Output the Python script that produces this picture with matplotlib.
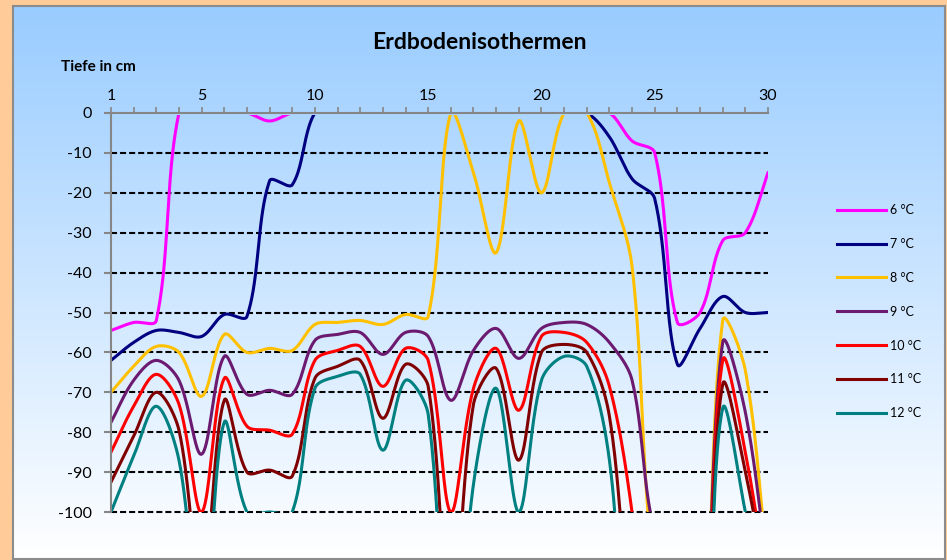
import numpy as np
import matplotlib
matplotlib.use("Agg")
import matplotlib.pyplot as plt
from matplotlib.colors import LinearSegmentedColormap
from matplotlib.transforms import Bbox, TransformedBbox

plt.rcParams["font.family"] = ["Lato", "DejaVu Sans"]
plt.rcParams["axes.unicode_minus"] = False

# Tag 1..30, Tiefe der Isotherme in cm (0 = Oberflaeche, -100 = tiefster Wert)
days = list(range(1, 31))
iso_6 = [-54.5, -52.5, -52, 0, 0, 0, 0, -2, 0, 0, 0, 0, 0, 0, 0,
         0, 0, 0, 0, 0, 0, 0, 0, -7, -10, -52.5, -50, -32, -30, -15]
iso_7 = [-62, -57.5, -54.5, -55, -56, -50.5, -51, -17, -18, 0, 0, 0, 0, 0, 0,
         0, 0, 0, 0, 0, 0, 0, -6, -16.5, -21.5, -63, -54, -46, -50, -50]
iso_8 = [-70, -63.5, -58.5, -60, -71, -55.5, -60, -59, -59.5, -53, -52.5, -52, -53, -50.5, -51,
         0, -15, -35, -2, -20, 0, 0, -17.5, -38.5, -115, -115, -150, -52, -64.5, -115]
iso_9 = [-77.5, -67, -62, -67, -85.5, -61, -70.5, -69.5, -70.5, -57, -55.5, -55, -60.5, -55, -56,
         -72, -59.5, -54, -61.5, -54, -52.5, -53, -57.5, -67, -105, -110, -150, -57.5, -75, -115]
iso_10 = [-85, -73.5, -65.5, -73, -100, -66.5, -78.5, -79.5, -80.5, -62, -59.5, -58.5, -68.5, -59, -62,
          -100, -69, -59, -74.5, -56, -55, -57.5, -68.5, -100, -150, -150, -150, -62, -85, -120]
iso_11 = [-92.5, -81, -70, -79.5, -120, -72, -90, -89.5, -91, -66.5, -63.5, -62, -76.5, -63, -68.5,
          -130, -73, -64, -87, -60, -58, -60, -76, -130, -150, -150, -150, -68, -90, -120]
iso_12 = [-100, -86, -73.5, -87, -130, -77.5, -100, -100, -100, -69, -66, -65.5, -84.5, -67, -75.5,
          -150, -93, -69, -100, -67, -61, -63.5, -87, -150, -150, -150, -150, -74, -100, -130]

series = [iso_6, iso_7, iso_8, iso_9, iso_10, iso_11, iso_12]
labels = ["6 °C", "7 °C", "8 °C", "9 °C", "10 °C", "11 °C", "12 °C"]
colors = ["#FF00FF", "#000080", "#FFC000", "#6B1A70", "#FF0000", "#800000", "#008080"]
x_labels = [1, 5, 10, 15, 20, 25, 30]


def smooth(ax, xs, ys, steps=40):
    # geglaettete Linie wie in Excel (Bezier, Kontrollpunkte nach Sehnenlaenge)
    p = ax.transData.transform(np.column_stack([xs, ys]))
    n = len(p)
    t = np.linspace(0, 1, steps)[:, None]
    parts = []
    for i in range(n - 1):
        a, b = p[i], p[i + 1]
        pa = p[i - 1] if i > 0 else a
        nb = p[i + 2] if i + 2 < n else b
        d0 = np.hypot(*(a - pa))
        d1 = np.hypot(*(b - a))
        d2 = np.hypot(*(nb - b))
        c1 = a + (b - pa) * (d1 / (d0 + d1)) / 3 if d0 + d1 > 0 else a
        c2 = b - (nb - a) * (d1 / (d1 + d2)) / 3 if d1 + d2 > 0 else b
        seg = (1 - t) ** 3 * a + 3 * (1 - t) ** 2 * t * c1 + 3 * (1 - t) * t ** 2 * c2 + t ** 3 * b
        parts.append(seg if i == 0 else seg[1:])
    pts = ax.transData.inverted().transform(np.vstack(parts))
    return pts[:, 0], pts[:, 1]


fig = plt.figure(figsize=(9.47, 5.6), dpi=100)
fig.patch.set_facecolor("#FFCC99")

# Hintergrund mit Verlauf
bg = fig.add_axes([13 / 947, 1 - 559 / 560, 932 / 947, 553 / 560])
cmap = LinearSegmentedColormap.from_list("bg", ["#99CCFF", "#FFFFFF"])
bg.imshow(np.linspace(0, 1, 256)[:, None], aspect="auto", cmap=cmap,
          extent=[0, 1, 0, 1], origin="upper")
bg.set_xticks([])
bg.set_yticks([])
for s in bg.spines.values():
    s.set_color("#8C8C8C")
    s.set_linewidth(1.5)

ax = fig.add_axes([111 / 947, 1 - 512 / 560, 657 / 947, 399 / 560])
ax.set_facecolor("none")
ax.set_xlim(1, 30)
ax.set_ylim(-100, 0)

ax.hlines(range(-100, 0, 10), 1, 30, colors="black", linestyles=(0, (2.9, 1.45)),
          linewidth=1.5, clip_on=False, zorder=1)

clip = TransformedBbox(Bbox([[0, 0], [1, 1 - 2.2 / 399]]), ax.transAxes)
handles = []
for vals, col in zip(series, colors):
    sx, sy = smooth(ax, days, vals)
    line, = ax.plot(sx, sy, color=col, lw=2.2, zorder=3)
    line.set_clip_box(clip)
    handles.append(line)

for side in ["right", "bottom"]:
    ax.spines[side].set_visible(False)
for side in ["top", "left"]:
    ax.spines[side].set_color("#868686")
    ax.spines[side].set_linewidth(1.5)
    ax.spines[side].set_zorder(4)

ax.xaxis.tick_top()
ax.set_xticks(days)
ax.set_xticklabels([str(d) if d in x_labels else "" for d in days])
ax.tick_params(axis="x", length=4.3, width=1.2, color="#868686", pad=3, labelsize=11.5)
ax.set_yticks(range(-100, 1, 10))
ax.tick_params(axis="y", length=5, width=1.5, color="#868686", pad=9, labelsize=11.5)

fig.text(479 / 947, 1 - 49 / 560, "Erdbodenisothermen", ha="center", va="baseline",
         fontsize=16.5, fontweight="bold")
fig.text(61 / 947, 1 - 71 / 560, "Tiefe in cm", ha="left", va="baseline",
         fontsize=11, fontweight="bold")

fig.legend(handles, labels, loc="upper left", bbox_to_anchor=(837 / 947, 1 - 204 / 560),
           frameon=False, fontsize=9, handlelength=3.9, handletextpad=0.35,
           labelspacing=1.75, borderpad=0, borderaxespad=0)

fig.savefig("out.png", dpi=100)
